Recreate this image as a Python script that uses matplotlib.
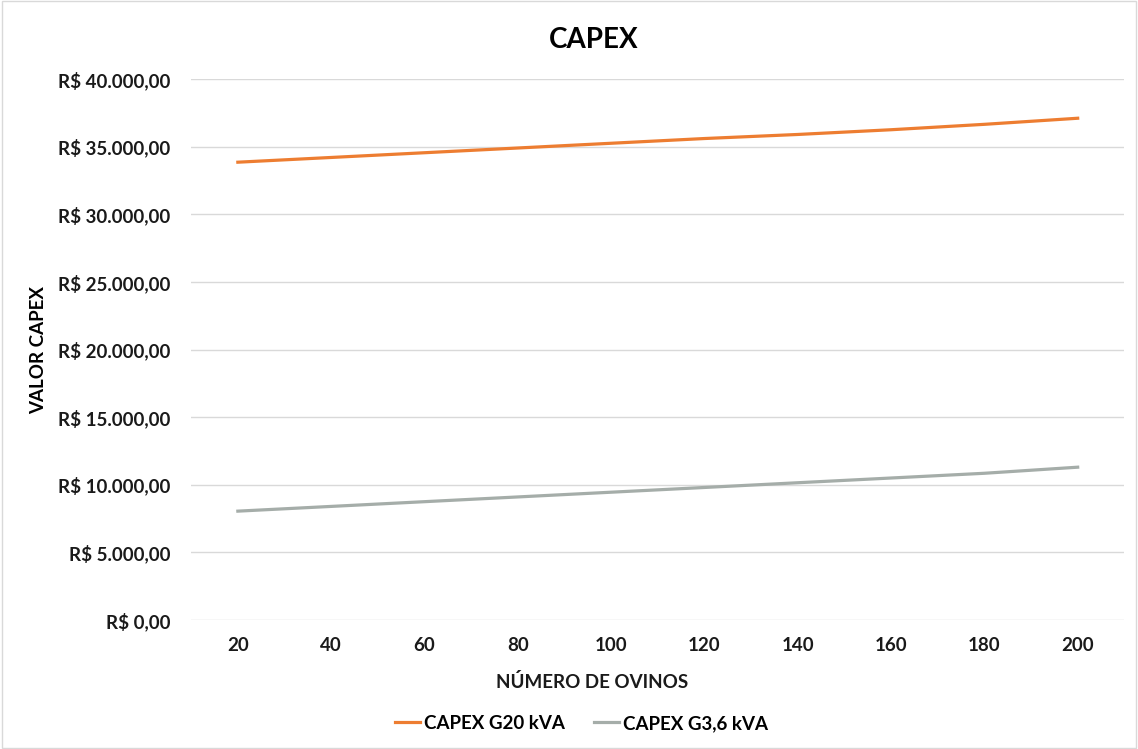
import matplotlib.pyplot as plt
from matplotlib.ticker import FuncFormatter

plt.rcParams['font.family'] = ['Lato', 'DejaVu Sans']

ovinos = [20, 40, 60, 80, 100, 120, 140, 160, 180, 200]
capex_g20 = [33850, 34200, 34550, 34900, 35250, 35600, 35900, 36250, 36650, 37100]
capex_g36 = [8050, 8400, 8750, 9100, 9450, 9800, 10150, 10500, 10850, 11300]


def reais(v, pos):
    s = f"{v:,.2f}".replace(",", "X").replace(".", ",").replace("X", ".")
    return "R$ " + s


fig = plt.figure(figsize=(11.38, 7.49), dpi=100)
ax = fig.add_axes([0.168, 0.1722, 0.820, 0.7223])

pos = list(range(len(ovinos)))
ax.plot(pos, capex_g20, color="#ED7D31", lw=2.3, label="CAPEX G20 kVA")
ax.plot(pos, capex_g36, color="#A5ADA9", lw=2.3, label="CAPEX G3,6 kVA")

ax.set_xlim(-0.5, len(ovinos) - 0.5)
ax.set_ylim(0, 40000)
ax.set_yticks(range(0, 40001, 5000))
ax.yaxis.set_major_formatter(FuncFormatter(reais))
ax.set_xticks(pos)
ax.set_xticklabels([str(o) for o in ovinos])

ax.grid(axis="y", color="#d9d9d9", lw=1)
ax.set_axisbelow(True)
for s in ax.spines.values():
    s.set_visible(False)
ax.tick_params(length=0, labelsize=13.5, colors="#1a1a1a", pad=12)
ax.tick_params(axis="y", pad=15)
for lab in ax.get_xticklabels() + ax.get_yticklabels():
    lab.set_fontweight("bold")

ax.set_ylabel("VALOR CAPEX", fontsize=13.5, fontweight="bold", labelpad=8)
fig.text(0.520, 0.090, "NÚMERO DE OVINOS", ha="center", va="center",
         fontsize=13.5, fontweight="bold", color="#1a1a1a")
fig.text(0.522, 0.947, "CAPEX", ha="center", va="center", fontsize=20, fontweight="bold")

leg = fig.legend(loc="center", bbox_to_anchor=(0.511, 0.034), ncol=2, frameon=False,
                 prop={"size": 13.5, "weight": "bold"}, handlelength=1.3,
                 handletextpad=0.2, columnspacing=1.6)

# chart area border
fig.patches.append(plt.Rectangle((0.002, 0.002), 0.996, 0.996, transform=fig.transFigure,
                                 fill=False, edgecolor="#d9d9d9", lw=1))

fig.savefig("out.png", dpi=100)
